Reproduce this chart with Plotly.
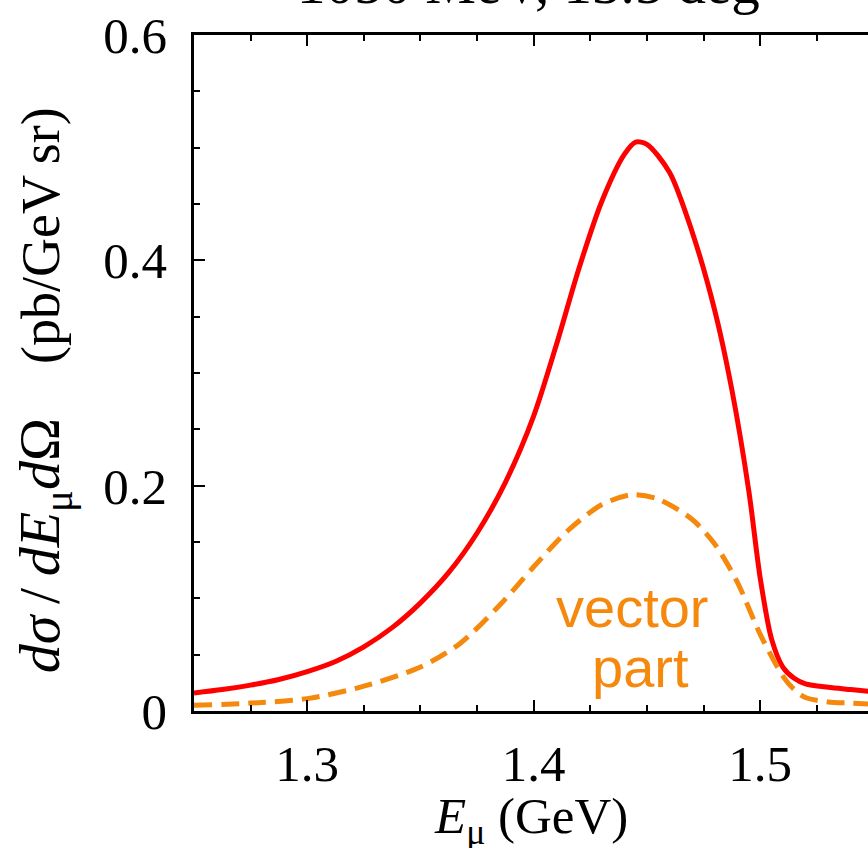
import plotly.graph_objects as go

# Data
x_total = [1.25, 1.2625, 1.275, 1.2875, 1.30, 1.3125, 1.325, 1.3375, 1.35, 1.3625,
           1.375, 1.3875, 1.40, 1.41, 1.42, 1.43, 1.44, 1.445, 1.45, 1.46,
           1.47, 1.48, 1.4875, 1.495, 1.50, 1.505, 1.51, 1.515, 1.52, 1.53,
           1.54, 1.55]
y_total = [0.016, 0.019, 0.023, 0.028, 0.035, 0.044, 0.057, 0.074, 0.096, 0.123,
           0.158, 0.203, 0.262, 0.325, 0.393, 0.452, 0.494, 0.505, 0.503, 0.478,
           0.425, 0.355, 0.285, 0.195, 0.118, 0.064, 0.039, 0.029, 0.024, 0.021,
           0.019, 0.017]

x_vector = [1.25, 1.275, 1.30, 1.325, 1.35, 1.3675, 1.385, 1.40, 1.415, 1.43,
            1.4434, 1.455, 1.47, 1.48, 1.49, 1.50, 1.51, 1.515, 1.52, 1.53,
            1.54, 1.55]
y_vector = [0.005, 0.007, 0.011, 0.022, 0.039, 0.060, 0.094, 0.128, 0.160, 0.183,
            0.192, 0.188, 0.170, 0.148, 0.114, 0.068, 0.031, 0.019, 0.012, 0.008,
            0.007, 0.006]

x_ticks = [1.3, 1.4, 1.5]
x_ticklabels = ["1.3", "1.4", "1.5"]
y_ticks = [0, 0.2, 0.4, 0.6]
y_ticklabels = ["0", "0.2", "0.4", "0.6"]

title_text = "1050 MeV, 13.5 deg"
label_lines = ["vector", "part"]

SERIF = "Liberation Serif, DejaVu Serif, serif"
SANS = "Liberation Sans, Arial, sans-serif"
ORANGE = "#F5890E"
XR = [1.25, 1.5476]
YR = [0, 0.6]

fig = go.Figure()
fig.add_trace(go.Scatter(x=x_total, y=y_total, mode="lines",
                         line=dict(color="#FF0000", width=5, shape="spline", smoothing=0.8),
                         showlegend=False, hoverinfo="skip"))
fig.add_trace(go.Scatter(x=x_vector, y=y_vector, mode="lines",
                         line=dict(color=ORANGE, width=5, dash="18px,9px", shape="spline", smoothing=0.8),
                         showlegend=False, hoverinfo="skip"))

tickfont = dict(family=SERIF, size=51, color="black")
minor_x = dict(dtick=0.025, ticks="inside", ticklen=6, tickwidth=2, tickcolor="black", showgrid=False)
minor_y = dict(dtick=0.05, ticks="inside", ticklen=6, tickwidth=2, tickcolor="black", showgrid=False)

fig.update_layout(
    width=868, height=848,
    margin=dict(l=194, r=0, t=35, b=137, autoexpand=False),
    paper_bgcolor="white", plot_bgcolor="white",
    xaxis=dict(range=XR, tickvals=x_ticks, ticktext=x_ticklabels, ticks="inside",
               ticklen=11, tickwidth=2, tickcolor="black", showline=True, linewidth=2.5,
               linecolor="black", mirror="ticks", showgrid=False, zeroline=False,
               tickfont=tickfont, ticklabelstandoff=6, automargin=False,
               minor=minor_x),
    yaxis=dict(range=YR, tickvals=y_ticks, ticktext=y_ticklabels, ticks="inside",
               ticklen=11, tickwidth=2, tickcolor="black", showline=True, linewidth=2.5,
               linecolor="black", showgrid=False, zeroline=False,
               tickfont=tickfont, ticklabelstandoff=14, automargin=False,
               minor=minor_y),
    yaxis2=dict(range=YR, overlaying="y", side="right", anchor="x", tickvals=y_ticks,
                showticklabels=False, ticks="inside", ticklen=11, tickwidth=2, tickcolor="black",
                showline=False, showgrid=False, zeroline=False, automargin=False,
                minor=minor_y),
)

# title (partly cut by the top edge, as in the reference)
fig.add_annotation(text=title_text, xref="paper", yref="paper", x=0.497, y=1.026,
                   xanchor="center", yanchor="bottom", showarrow=False,
                   font=dict(family=SERIF, size=57, color="black"))

# x-axis title
fig.add_annotation(text="<i>E</i><sub>μ</sub> (GeV)", xref="paper", yref="paper",
                   x=0.5, y=-0.161, xanchor="center", yanchor="middle", showarrow=False,
                   font=dict(family=SERIF, size=51, color="black"))

# y-axis title
ytitle = ("<span style='font-size:58px'><i>dσ</i>&#8201;/&#8201;<i>dE</i><sub>μ</sub><i>d</i>Ω</span>"
          "&nbsp;&nbsp;&nbsp;&nbsp;(pb/GeV&#8201;sr)")
fig.add_annotation(text=ytitle,
                   xref="paper", yref="paper", x=-0.222, y=0.475, xanchor="center", yanchor="middle",
                   textangle=-90, showarrow=False,
                   font=dict(family=SERIF, size=54, color="black"))

fig.add_annotation(text=label_lines[0], xref="x", yref="y", x=1.4434, y=0.092,
                   xanchor="center", yanchor="middle", showarrow=False,
                   font=dict(family=SANS, size=56, color=ORANGE))
fig.add_annotation(text=label_lines[1], xref="x", yref="y", x=1.447, y=0.039,
                   xanchor="center", yanchor="middle", showarrow=False,
                   font=dict(family=SANS, size=56, color=ORANGE))

fig.write_html("out.html", config={"displayModeBar": False},
               post_script="document.body.style.margin='0';")
